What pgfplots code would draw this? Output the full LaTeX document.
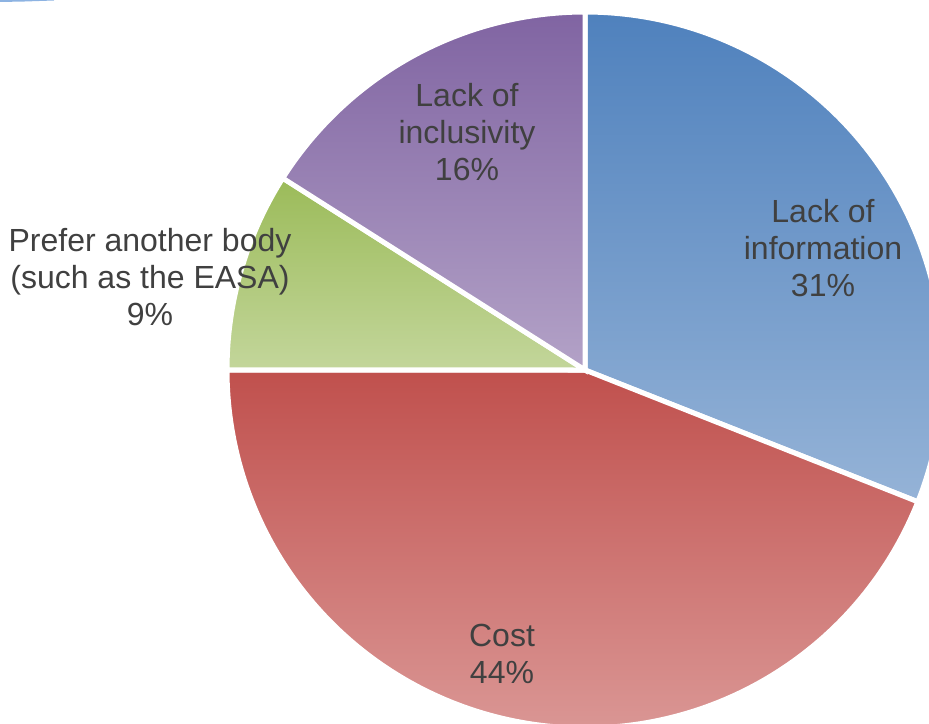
\documentclass[border=0pt]{standalone}
\usepackage{pgfplots}
\pgfplotsset{compat=1.18}
\usepackage{fontspec}
\setmainfont{Liberation Sans}
\definecolor{txt}{HTML}{404040}
\definecolor{bluetop}{HTML}{4F81BD}
\definecolor{bluebot}{HTML}{95B3D7}
\definecolor{redtop}{HTML}{C0504D}
\definecolor{redbot}{HTML}{DA9694}
\definecolor{greentop}{HTML}{9BBB59}
\definecolor{greenbot}{HTML}{C3D69B}
\definecolor{purptop}{HTML}{8064A2}
\definecolor{purpbot}{HTML}{B3A2C7}
\definecolor{arcblue}{HTML}{8DB3E2}
% shares in percent
\def\pInfo{31}
\def\pCost{44}
\def\pBody{9}
\def\pIncl{16}
\tikzset{lbl/.style={font=\fontsize{16}{18.3}\selectfont, text=txt, align=center, inner sep=0pt}}
\begin{document}
\begin{tikzpicture}
\pgfmathsetmacro{\aA}{90}
\pgfmathsetmacro{\aB}{\aA-3.6*\pInfo}
\pgfmathsetmacro{\aC}{\aB-3.6*\pCost}
\pgfmathsetmacro{\aD}{\aC-3.6*\pBody}
\pgfmathsetmacro{\aE}{\aD-3.6*\pIncl}
\begin{axis}[
  x=0.5pt, y=0.5pt,
  xmin=0, xmax=929, ymin=0, ymax=723,
  hide axis, clip=true,
]
\addplot[draw=white, line width=2.5pt, top color=bluetop, bottom color=bluebot, domain=\aB:\aA, samples=120]
  ({585+358*cos(x)},{353+358*sin(x)}) -- (axis cs:585,353) -- cycle;
\addplot[draw=white, line width=2.5pt, top color=redtop, bottom color=redbot, domain=\aC:\aB, samples=150]
  ({585+358*cos(x)},{353+358*sin(x)}) -- (axis cs:585,353) -- cycle;
\addplot[draw=white, line width=2.5pt, top color=greentop, bottom color=greenbot, domain=\aD:\aC, samples=40]
  ({585+358*cos(x)},{353+358*sin(x)}) -- (axis cs:585,353) -- cycle;
\addplot[draw=white, line width=2.5pt, top color=purptop, bottom color=purpbot, domain=\aE:\aD, samples=60]
  ({585+358*cos(x)},{353+358*sin(x)}) -- (axis cs:585,353) -- cycle;
\addplot[arcblue, line width=1pt] coordinates {(0,722) (25,722.5) (54,723.5)};
\node[lbl] at (axis cs:823,475) {Lack of\\information\\31\%};
\node[lbl] at (axis cs:467,591) {Lack of\\inclusivity\\16\%};
\node[lbl] at (axis cs:150,446) {Prefer another body\\(such as the EASA)\\9\%};
\node[lbl] at (axis cs:502,69) {Cost\\44\%};
\end{axis}
\pgfresetboundingbox
\path[use as bounding box] (current axis.south west) rectangle (current axis.north east);
\end{tikzpicture}
\end{document}
